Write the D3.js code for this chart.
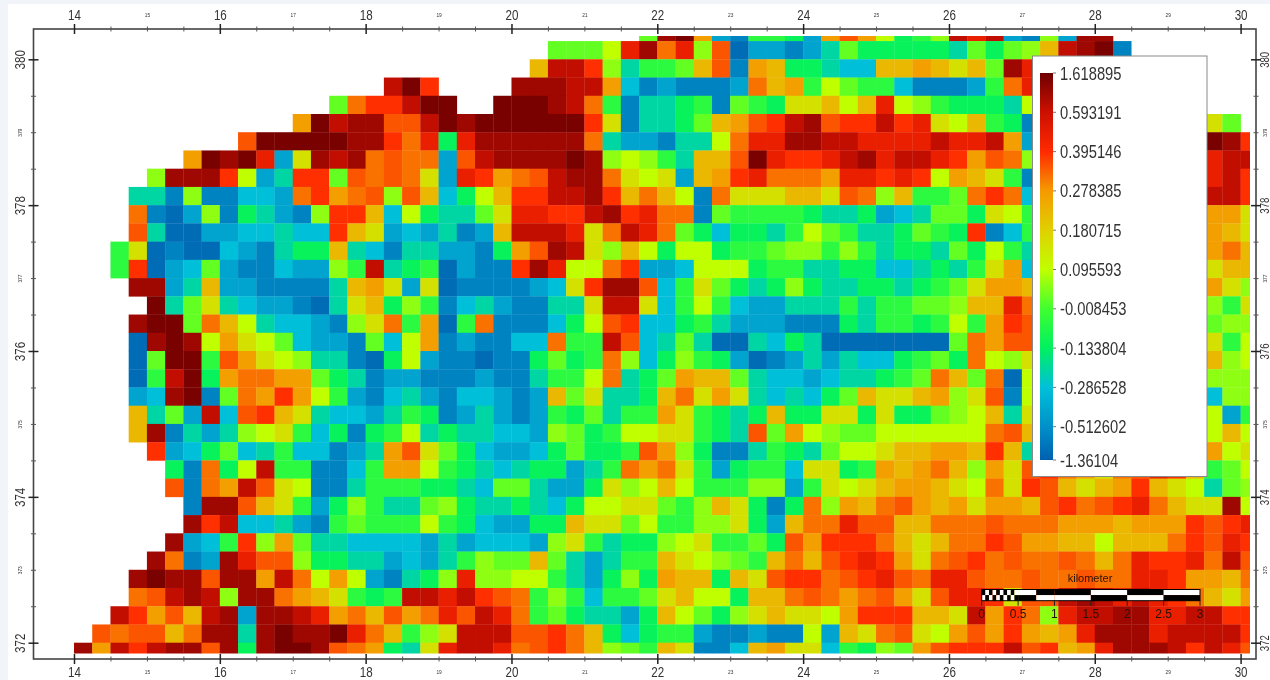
<!DOCTYPE html>
<html>
<head>
<meta charset="utf-8">
<script src="https://cdn.jsdelivr.net/npm/d3@7"></script>
<style>
html, body { margin: 0; padding: 0; background: #f1f5fa; overflow: hidden; }
svg { display: block; filter: blur(0.55px); }
text { font-family: "Liberation Sans", Arial, sans-serif; fill: #333; }
</style>
</head>
<body>
<script>
// legend stops, top to bottom
var legendValues = [1.618895, 0.593191, 0.395146, 0.278385, 0.180715, 0.095593, -0.008453, -0.133804, -0.286528, -0.512602, -1.36104];
var legendColors = ['#6e0000', '#cc1000', '#ff2a00', '#f59a00', '#e0d000', '#c0ff00', '#40ff30', '#00f060', '#00c0d8', '#0090c8', '#0060b0'];

var bandCodes = 'abcdefghijklmnopqrst';
var bandValues = [-1.15, -0.75, -0.42, -0.29, -0.22, -0.12, -0.05, 0.02, 0.055, 0.095, 0.15, 0.225, 0.27, 0.32, 0.35, 0.39, 0.48, 0.7, 1.1, 1.5];

// rows run north to south, '.' is no data or hidden behind the legend
var rowNorth = [380.5, 380.25, 380, 379.75, 379.5, 379.25, 379, 378.75, 378.5, 378.25, 378, 377.75, 377.5, 377.25, 377, 376.75, 376.5, 376.25, 376, 375.75, 375.5, 375.25, 375, 374.75, 374.5, 374.25, 374, 373.75, 373.5, 373.25, 373, 372.75, 372.5, 372.25, 372];
var rowStart = [31, 26, 25, 17, 14, 12, 9, 6, 4, 3, 3, 3, 2, 2, 3, 4, 3, 3, 3, 3, 3, 3, 3, 4, 5, 5, 6, 6, 5, 4, 3, 3, 2, 1, 0];
var rowCells = [
	'hstmcbggfcmomjfgirqrcbicss',
	'hhhjqsnqioaccbcehfffffehfhilrstb',
	'lrrpiegghlobmlffeddllmlklhsq',
	'rtp....sssrrmdbcbbbcnlmgjhggdbbbcgnq',
	'hnpprtt..tttsrngbeefgbhgfkkljlqjigfffej',
	'mtrssoortsttttttpkbeefhlmoprsopprpqkjlgfb.........kh',
	'otttttsspnqfqssssssneccbeejnqqssrrqqqqrqqrmc.........tsp',
	'mtstqcksrsnonncorsssstsijigellotqppqrsqrrqpmoni.........qrr',
	'issspjcepphononkcqpmnorssnkjkclmpqnnnmqqpqpjmlkgb.........qrp',
	'eebibbddcnpmnoioldfjlpprrsplnljbnkkkllkonilgghnpnd.........rrp',
	'nbacibfecbippldjfeehkqqpprspqnnbhggggfeefcdehhfkjg.........mmk',
	'oeaaccddeddplkcdcebclrrrqknrqnhfdffegjhgeefhgfpbdg.........mlk',
	'gkabaadcbeffledbeeccbfmosrkiljfjjfgghiigigeffehfjge.........mnl',
	'gpacdhcbbdccigrefgacbbpsqjjnpccdjjjfggeeffddefegkmd.........kll',
	'sscelccbbbbelmkckabbbbcdkpssodgkhfefifeeffefghkmml.........mki',
	'tehkedccbaeklfigbdecbbeekrrkdgjgdcceeegegghhillqn.........igk',
	'stthnljeddcbikngmagnbbbdfjopddfgecccbbbfeggfgjgmpo.........hii',
	'astsjmkjhdccbhdjmbcbbddnggrodeheaaedfeaaaaaaahnmoo.........kgj',
	'ahttgomkjieebafjcbbabbfhfgnidfigfcabceceddfghfnjik.........lij',
	'agrtfmnnmmhfebccbbbcbbeggjnefhmllheddcdeefghnlhnaj.........iii',
	'cdstbhnmpmjgcbdecbddcbclhkeeflnkmkededfhlkklmikobj.........dii',
	'lehcrdoplkeddcegfbcecbcgfheggmkgfeflffkkfkffhijlek.........jcg',
	'lsbeceijkgdfbfgjefeeddcihfgjjkkgfeohmjihhjjjjjjnol.........jlj',
	'pcdfhdegddbcemokhfdccdfhffgomifbbegfehjjkllmmlple.........mjk',
	'fbnfjrggbbdgmmjgfedeffcegnmnkgcfggdkkfgmlmnlimkopnmknoqplghj',
	'obnmrokjbbegggffedhheccfkijljgggiicgkjklmmlkjnkpolklmplkjehi',
	'bssolkgcfigeehifeefedfjjkkhgilkfbfnimlnomlmkmmlopnopqnlkksj',
	'sprddecbghgggjgfdccfflkkhjggiikfclnnqoollnnnonnnmmmlmmmpopq',
	'scdgpimheeddddcecdddcikgeffijkgghfompppnlklnnpommlljlllnpoqp',
	'snbcsqooiffeecdcegihhlhecegglkjihglnlopqpmknopnonnonlnqppqnro',
	'stssossmrnjmjcbefiqiijjgecfifmllflkoppnopqonqqonnonnonnqqpmmln',
	'norsrissnmlkgfgrrqrpongigdgghkljjfllnonmnomkoqqpkoorsrqrqpnlkm',
	'rpmolrscssrqmnlomnqorqnghfeecfljhfiklkkjmpppllkrmpniqrrssqqrrpp',
	'onoolnssestsstqnlgikrrroopnlfdfggcbbcbbjclknokjmompmlmqsssqrrrrp',
	'smrprssosfsttsonmfekqrrqnopnlihglkbbdlmkkdgfihmoppproplmqsssrprqo'
];

var xTicks = d3.range(14, 30.5, 0.5);
var yTicks = d3.range(372, 380.5, 0.5);
var scaleBarKm = [0, 0.5, 1, 1.5, 2, 2.5, 3];
var checkerKm = [0, 0.1, 0.2, 0.3, 0.4];

var width = 1270, height = 680;
var cellKm = 0.25;

var x = d3.scaleLinear().domain([14, 30]).range([74, 1240.6]);
var y = d3.scaleLinear().domain([372, 380]).range([642.7, 59.3]);
var color = d3.scaleLinear().domain(legendValues).range(legendColors);

var svg = d3.select('body').append('svg')
	.attr('width', width)
	.attr('height', height);

svg.append('rect')
	.attr('x', 8).attr('y', 4)
	.attr('width', width - 8).attr('height', height - 4)
	.attr('fill', 'white');

var defs = svg.append('defs');

// the grid stops short of the frame on three sides
defs.append('clipPath').attr('id', 'gridclip').append('rect')
	.attr('x', 70).attr('y', 36)
	.attr('width', 1250 - 70).attr('height', 653.4 - 36);

// flatten the rows into cells
var cells = [];
rowCells.forEach(function(row, i) {
	row.split('').forEach(function(code, j) {
		if (code === '.') return;
		cells.push({
			col: rowStart[i] + j,
			north: rowNorth[i],
			value: bandValues[bandCodes.indexOf(code)]
		});
	});
});

svg.append('g').attr('clip-path', 'url(#gridclip)')
	.selectAll('rect')
	.data(cells)
	.enter().append('rect')
		.attr('x', function(d) { return x(14 + d.col * cellKm); })
		.attr('y', function(d) { return y(d.north); })
		.attr('width', x(14 + cellKm) - x(14) + 0.3)
		.attr('height', y(372) - y(372 + cellKm) + 0.3)
		.attr('fill', function(d) { return color(d.value); });

// frame
svg.append('rect')
	.attr('x', 33.5).attr('y', 29)
	.attr('width', 1256 - 33.5).attr('height', 659 - 29)
	.attr('fill', 'none')
	.attr('stroke', '#444')
	.attr('stroke-width', 1.6);

// all four axes share the same tick rule: even = big with big label, odd = tiny label
function isMajor(d) { return d % 2 === 0; }
function tickLabel(d) { return d % 1 === 0 ? d : ''; }

function styleAxis(g, vertical, labelOffset, rotate, bigSize) {
	g.select('.domain').remove();
	g.selectAll('.tick line')
		.attr('stroke', function(d) { return isMajor(d) ? '#222' : '#555'; })
		.attr('stroke-width', function(d) { return isMajor(d) ? 1.5 : 1; })
		.attr(vertical ? 'x1' : 'y1', function(d) { return isMajor(d) ? -5 : -2.5; })
		.attr(vertical ? 'x2' : 'y2', function(d) { return isMajor(d) ? 5 : 2.5; });
	g.selectAll('.tick text')
		.attr('x', null).attr('y', null).attr('dy', null)
		.attr('text-anchor', 'middle')
		.attr('dominant-baseline', 'central')
		.style('font-size', function(d) { return isMajor(d) ? bigSize + 'px' : '6px'; })
		.attr('transform', function() {
			var t = vertical ? 'translate(' + labelOffset + ',0)' : 'translate(0,' + labelOffset + ')';
			return t + (rotate ? ' rotate(' + rotate + ')' : '') + ' scale(0.8,1)';
		});
}

svg.append('g').attr('transform', 'translate(0,29)')
	.call(d3.axisTop(x).tickValues(xTicks).tickFormat(tickLabel).tickSizeOuter(0))
	.call(styleAxis, false, -14, 0, 14.5);
svg.append('g').attr('transform', 'translate(0,659)')
	.call(d3.axisBottom(x).tickValues(xTicks).tickFormat(tickLabel).tickSizeOuter(0))
	.call(styleAxis, false, 13, 0, 14.5);
svg.append('g').attr('transform', 'translate(33.5,0)')
	.call(d3.axisLeft(y).tickValues(yTicks).tickFormat(tickLabel).tickSizeOuter(0))
	.call(styleAxis, true, -13.5, -90, 14.5);
svg.append('g').attr('transform', 'translate(1256,0)')
	.call(d3.axisRight(y).tickValues(yTicks).tickFormat(tickLabel).tickSizeOuter(0))
	.call(styleAxis, true, 8.5, -90, 12);

// legend
var legend = svg.append('g');
legend.append('rect')
	.attr('x', 1032.5).attr('y', 56)
	.attr('width', 174.5).attr('height', 420.5)
	.attr('fill', 'white')
	.attr('stroke', '#8a8a8a')
	.attr('stroke-width', 1);

var tickGap = 39.3;
var legendPos = legendValues.map(function(v, i) {
	return i === legendValues.length - 1 ? 460 : 73 + i * tickGap;
});
var grad = defs.append('linearGradient').attr('id', 'legendgrad')
	.attr('x1', 0).attr('x2', 0).attr('y1', 0).attr('y2', 1);
grad.selectAll('stop').data(legendColors).enter().append('stop')
	.attr('offset', function(d, i) { return (legendPos[i] - 73) / (460 - 73); })
	.attr('stop-color', function(d) { return d; });
legend.append('rect')
	.attr('x', 1040).attr('y', 73)
	.attr('width', 13).attr('height', 387)
	.attr('fill', 'url(#legendgrad)');

var legendAxis = legend.selectAll('g.ltick').data(legendValues).enter().append('g')
	.attr('transform', function(d, i) { return 'translate(1053,' + legendPos[i] + ')'; });
legendAxis.append('line').attr('x2', 3).attr('stroke', '#777');
legendAxis.append('text')
	.attr('transform', 'translate(7,0) scale(0.82,1)')
	.attr('dominant-baseline', 'central')
	.style('font-size', '18px')
	.text(function(d) { return d; });

// scale bar
var barX = d3.scaleLinear().domain([0, 3]).range([981.7, 1200]);
var barTop = 589.5, barRow = 5.6;
var bar = svg.append('g');

function barCell(km0, km1, rowIdx, black) {
	bar.append('rect')
		.attr('x', barX(km0)).attr('y', barTop + rowIdx * barRow)
		.attr('width', barX(km1) - barX(km0)).attr('height', barRow)
		.attr('fill', black ? 'black' : 'white');
}
checkerKm.forEach(function(km) {
	barCell(km, km + 0.05, 0, true); barCell(km + 0.05, km + 0.1, 0, false);
	barCell(km, km + 0.05, 1, false); barCell(km + 0.05, km + 0.1, 1, true);
});
barCell(0.5, 0.75, 0, false); barCell(0.5, 0.75, 1, true);
barCell(0.75, 1, 0, true); barCell(0.75, 1, 1, false);
scaleBarKm.slice(2, 6).forEach(function(km, i) {
	barCell(km, km + 0.5, 0, i % 2 === 0);
	barCell(km, km + 0.5, 1, i % 2 !== 0);
});
bar.append('rect')
	.attr('x', barX(0)).attr('y', barTop)
	.attr('width', barX(3) - barX(0)).attr('height', 2 * barRow)
	.attr('fill', 'none').attr('stroke', 'black').attr('stroke-width', 1);

var barTicks = bar.selectAll('g.btick').data(scaleBarKm).enter().append('g')
	.attr('transform', function(d) { return 'translate(' + barX(d) + ',' + (barTop + 2 * barRow) + ')'; });
barTicks.append('line').attr('y2', 5).attr('stroke', '#222');
barTicks.append('text')
	.attr('y', 13)
	.attr('text-anchor', 'middle')
	.attr('dominant-baseline', 'central')
	.style('fill', '#2a1000')
	.style('font-size', '12px')
	.text(function(d) { return d; });
bar.append('text')
	.attr('x', 1090).attr('y', 578)
	.attr('text-anchor', 'middle')
	.attr('dominant-baseline', 'central')
	.style('fill', '#2a1000')
	.style('font-size', '11px')
	.text('kilometer');
</script>
</body>
</html>
